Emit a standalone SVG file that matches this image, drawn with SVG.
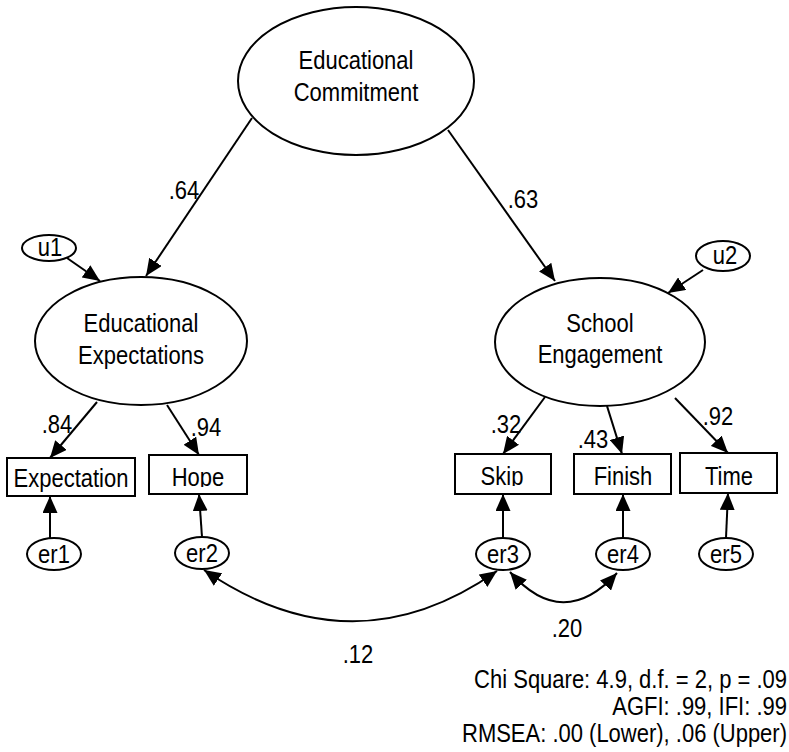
<svg xmlns="http://www.w3.org/2000/svg" width="789" height="752" viewBox="0 0 789 752">
<style>
  .shape { fill: #fff; stroke: #000; stroke-width: 2; }
  .conn { fill: none; stroke: #000; stroke-width: 2; }
  text { font-family: "Liberation Sans", Arial, sans-serif; font-size: 25px; fill: #000; text-anchor: middle;
         transform-box: fill-box; transform-origin: center; transform: scaleX(0.88); }
  text.right { text-anchor: end; transform-origin: right; }
</style>
<defs>
  <marker id="arrow" markerUnits="userSpaceOnUse" markerWidth="17" markerHeight="15" refX="17" refY="7.5" orient="auto">
    <path d="M0,0 L17,7.5 L0,15 z" fill="#000"/>
  </marker>
  <marker id="arrow2" markerUnits="userSpaceOnUse" markerWidth="17" markerHeight="15" refX="17" refY="7.5" orient="auto-start-reverse">
    <path d="M0,0 L17,7.5 L0,15 z" fill="#000"/>
  </marker>
  <clipPath id="clipHope"><rect x="149" y="455" width="98" height="32"/></clipPath>
  <clipPath id="clipSkip"><rect x="455" y="454" width="96" height="32"/></clipPath>
</defs>

<g id="connectors">
  <line class="conn" x1="252" y1="118" x2="146" y2="276" marker-end="url(#arrow)"/>
  <line class="conn" x1="448" y1="130" x2="555" y2="281" marker-end="url(#arrow)"/>
  <line class="conn" x1="67" y1="258" x2="100" y2="281" marker-end="url(#arrow)"/>
  <line class="conn" x1="703" y1="270" x2="668" y2="293" marker-end="url(#arrow)"/>
  <line class="conn" x1="97" y1="402" x2="50" y2="458" marker-end="url(#arrow)"/>
  <line class="conn" x1="167" y1="405" x2="199" y2="455" marker-end="url(#arrow)"/>
  <line class="conn" x1="545" y1="397" x2="503" y2="454" marker-end="url(#arrow)"/>
  <line class="conn" x1="607" y1="406" x2="622" y2="454" marker-end="url(#arrow)"/>
  <line class="conn" x1="675" y1="398" x2="728" y2="453" marker-end="url(#arrow)"/>
  <line class="conn" x1="50" y1="538" x2="50" y2="496" marker-end="url(#arrow)"/>
  <line class="conn" x1="202" y1="537" x2="199" y2="494" marker-end="url(#arrow)"/>
  <line class="conn" x1="503" y1="538" x2="503" y2="494" marker-end="url(#arrow)"/>
  <line class="conn" x1="623" y1="538" x2="623" y2="494" marker-end="url(#arrow)"/>
  <line class="conn" x1="726" y1="538" x2="728" y2="493" marker-end="url(#arrow)"/>
  <path class="conn" d="M204,570 Q353,672 497,571" marker-start="url(#arrow2)" marker-end="url(#arrow2)"/>
  <path class="conn" d="M510,572 Q563,632 617,573" marker-start="url(#arrow2)" marker-end="url(#arrow2)"/>
  <text x="184" y="199">.64</text>
  <text x="523" y="208">.63</text>
  <text x="57" y="433">.84</text>
  <text x="206" y="436">.94</text>
  <text x="506" y="433">.32</text>
  <text x="593" y="448">.43</text>
  <text x="718" y="425">.92</text>
  <text x="567" y="637">.20</text>
  <text x="358" y="663">.12</text>
</g>

<g id="commitment">
  <ellipse class="shape" cx="356" cy="81" rx="118" ry="74"/>
  <text x="356" y="69">Educational</text>
  <text x="356" y="101">Commitment</text>
</g>
<g id="expectations">
  <ellipse class="shape" cx="141" cy="341" rx="106" ry="64"/>
  <text x="141" y="332">Educational</text>
  <text x="141" y="364">Expectations</text>
</g>
<g id="engagement">
  <ellipse class="shape" cx="600" cy="342" rx="105" ry="64"/>
  <text x="600" y="332">School</text>
  <text x="600" y="363">Engagement</text>
</g>
<g id="u1">
  <ellipse class="shape" cx="49" cy="248" rx="27" ry="13"/>
  <text x="50" y="256">u1</text>
</g>
<g id="u2">
  <ellipse class="shape" cx="723" cy="256" rx="27" ry="15"/>
  <text x="725" y="264">u2</text>
</g>
<g id="expectation">
  <rect class="shape" x="7" y="458" width="128" height="38"/>
  <text x="71" y="487">Expectation</text>
</g>
<g id="hope">
  <rect class="shape" x="149" y="455" width="98" height="39"/>
  <g clip-path="url(#clipHope)"><text x="198" y="486">Hope</text></g>
</g>
<g id="skip">
  <rect class="shape" x="455" y="454" width="96" height="40"/>
  <g clip-path="url(#clipSkip)"><text x="502" y="485">Skip</text></g>
</g>
<g id="finish">
  <rect class="shape" x="574" y="454" width="97" height="40"/>
  <text x="623" y="485">Finish</text>
</g>
<g id="time">
  <rect class="shape" x="680" y="453" width="97" height="40"/>
  <text x="729" y="485">Time</text>
</g>
<g id="er1">
  <ellipse class="shape" cx="54" cy="554" rx="27" ry="16"/>
  <text x="54" y="563">er1</text>
</g>
<g id="er2">
  <ellipse class="shape" cx="202" cy="553" rx="27" ry="16"/>
  <text x="202" y="562">er2</text>
</g>
<g id="er3">
  <ellipse class="shape" cx="503" cy="554" rx="27" ry="16"/>
  <text x="503" y="563">er3</text>
</g>
<g id="er4">
  <ellipse class="shape" cx="623" cy="554" rx="27" ry="16"/>
  <text x="623" y="563">er4</text>
</g>
<g id="er5">
  <ellipse class="shape" cx="726" cy="554" rx="27" ry="16"/>
  <text x="726" y="563">er5</text>
</g>

<g id="fit">
  <text class="right" x="787" y="688">Chi Square: 4.9, d.f. = 2, p = .09</text>
  <text class="right" x="787" y="715">AGFI: .99, IFI: .99</text>
  <text class="right" x="787" y="742">RMSEA: .00 (Lower), .06 (Upper)</text>
</g>
</svg>
